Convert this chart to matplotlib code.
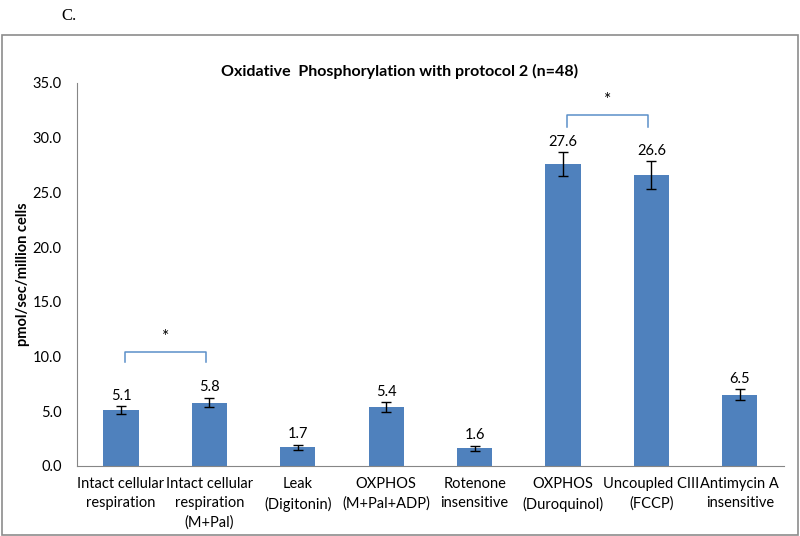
import matplotlib.pyplot as plt
from matplotlib.patches import Rectangle

# data
categories = ["Intact cellular\nrespiration", "Intact cellular\nrespiration\n(M+Pal)",
              "Leak\n(Digitonin)", "OXPHOS\n(M+Pal+ADP)", "Rotenone\ninsensitive",
              "OXPHOS\n(Duroquinol)", "Uncoupled CIII\n(FCCP)", "Antimycin A\ninsensitive"]
values = [5.1, 5.8, 1.7, 5.4, 1.6, 27.6, 26.6, 6.5]
errors = [0.35, 0.45, 0.25, 0.45, 0.25, 1.1, 1.25, 0.5]
yticks = [0, 5, 10, 15, 20, 25, 30, 35]
# significance brackets: (left bar, right bar, top y, leg bottom y)
brackets = [(0, 1, 10.45, 9.5), (5, 6, 32.1, 31.0)]

plt.rcParams['font.family'] = ['Lato', 'DejaVu Sans']

fig = plt.figure(figsize=(8, 5.36), dpi=100)

# outer frame and panel letter
fig.patches.append(Rectangle((0.003, 0.002), 0.994, 0.933, transform=fig.transFigure,
                             fill=False, edgecolor='#8c8c8c', linewidth=1.2))
fig.text(0.077, 0.985, "C.", family='Liberation Serif', fontsize=12, va='top')

ax = fig.add_axes([0.096, 0.1306, 0.884, 0.7146])
x = range(len(values))
ax.bar(x, values, width=0.4, color='#4F81BD', zorder=2)
ax.errorbar(x, values, yerr=errors, fmt='none', ecolor='black', elinewidth=1,
            capsize=3.5, capthick=1, zorder=3)

for i, (v, e) in enumerate(zip(values, errors)):
    ax.text(i, v + e + 0.3, f"{v:.1f}", ha='center', va='bottom', fontsize=10.5)

for a, b, top, low in brackets:
    xa, xb = a + 0.04, b - 0.04
    ax.plot([xa, xa, xb, xb], [low, top, top, low], color='#5b8fc9', linewidth=1.1)
    ax.text((xa + xb) / 2, top + 0.6, "*", ha='center', va='bottom', fontsize=12.5)

ax.set_xlim(-0.5, len(values) - 0.5)
ax.set_ylim(0, 35)
ax.set_yticks(yticks)
ax.set_yticklabels([f"{t:.1f}" for t in yticks], fontsize=10.5)
ax.set_xticks(list(x))
ax.set_xticklabels(categories, fontsize=10.5, linespacing=1.45)
ax.tick_params(axis='y', length=0, pad=11)
ax.tick_params(axis='x', length=0, pad=8)

for s in ['top', 'right']:
    ax.spines[s].set_visible(False)
for s in ['left', 'bottom']:
    ax.spines[s].set_color('#868686')

ax.set_ylabel("pmol/sec/million cells", fontsize=10.5, fontweight='bold', labelpad=2)
fig.text(0.5, 0.867, "Oxidative  Phosphorylation with protocol 2 (n=48)",
         ha='center', va='center', fontsize=11.5, fontweight='bold')

fig.savefig("out.png", dpi=100)
